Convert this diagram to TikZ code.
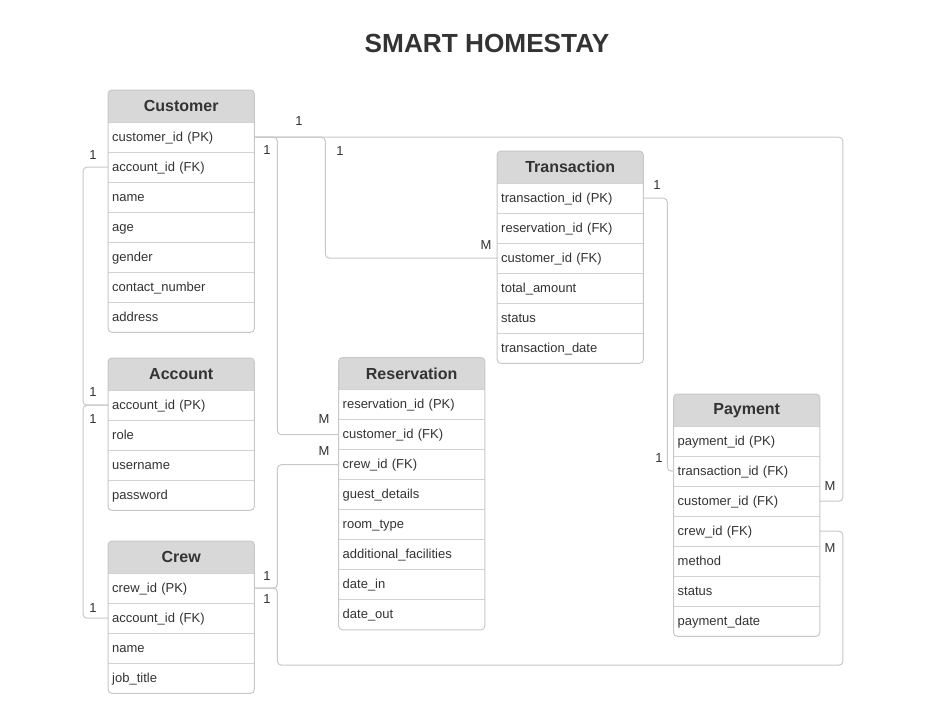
\documentclass[tikz,border=0pt]{standalone}
\usepackage{fontspec}
\setmainfont{Liberation Sans}
\definecolor{txt}{HTML}{333333}
\definecolor{hdrfill}{HTML}{D8D8D8}
\definecolor{bordc}{HTML}{C8C8C8}
\definecolor{sepc}{HTML}{D2D2D2}
\definecolor{linec}{HTML}{C8C8C8}
\pgfdeclarelayer{pagebg}
\pgfdeclarelayer{hdrbg}
\pgfsetlayers{pagebg,hdrbg,main}
\tikzset{
  hdr/.style={rectangle, anchor=north west, minimum width=146pt, minimum height=32pt, inner sep=0pt,
    font=\fontsize{16}{18}\selectfont\bfseries, text=txt},
  fld/.style={rectangle, anchor=north west, minimum height=30pt, inner xsep=4pt, inner ysep=0pt,
    text width=138pt, align=left, text height=12pt, text depth=3.5pt,
    font=\fontsize{13}{15}\selectfont, text=txt},
  conn/.style={draw=linec, line width=1pt, rounded corners=4pt},
  card/.style={font=\fontsize{13}{15}\selectfont, text=txt, inner sep=0pt},
  tbord/.style={draw=bordc, line width=1pt, rounded corners=4pt},
  tsep/.style={draw=sepc, line width=1pt},
}
\newcommand\ertable[5]{%
  \node[hdr] (#1) at (#2,#3) {#4};
  \foreach \f [count=\i] in {#5} {
    \node[fld] (#1-\i) at (#2,{#3+32+(\i-1)*30}) {\f};
  }
}
\newcommand\erframe[2]{%
  \begin{pgfonlayer}{hdrbg}
  \begin{scope}
    \clip[rounded corners=4pt] (#1.north west) rectangle (#1-#2.south east);
    \fill[hdrfill] (#1.north west) rectangle (#1.south east);
  \end{scope}
  \end{pgfonlayer}
  \foreach \i in {1,...,#2} { \draw[tsep] (#1-\i.north west) -- (#1-\i.north east); }
  \draw[tbord] (#1.north west) rectangle (#1-#2.south east);
}
\begin{document}
\begin{tikzpicture}[x=1pt, y=-1pt]
\begin{pgfonlayer}{pagebg}
\fill[white] (0,0) rectangle (949,710);
\end{pgfonlayer}
\useasboundingbox (0,0) rectangle (949,710);

\node[font=\fontsize{26.2}{28}\selectfont\bfseries, text=txt] (title) at (487,43) {SMART HOMESTAY};

\ertable{cust}{108}{90}{Customer}{customer\_id (PK), account\_id (FK), name, age, gender, contact\_number, address}
\ertable{acc}{108}{358}{Account}{account\_id (PK), role, username, password}
\ertable{crew}{108}{541}{Crew}{crew\_id (PK), account\_id (FK), name, job\_title}
\ertable{res}{338.5}{357.5}{Reservation}{reservation\_id (PK), customer\_id (FK), crew\_id (FK), guest\_details, room\_type, additional\_facilities, date\_in, date\_out}
\ertable{trans}{497}{151}{Transaction}{transaction\_id (PK), reservation\_id (FK), customer\_id (FK), total\_amount, status, transaction\_date}
\ertable{pay}{673.5}{394}{Payment}{payment\_id (PK), transaction\_id (FK), customer\_id (FK), crew\_id (FK), method, status, payment\_date}

% connectors
\draw[conn] (cust-2.west) -- ++(-25,0) |- (acc-1.west);
\draw[conn] (acc-1.west) -- ++(-25,0) |- (crew-2.west);
\draw[conn] (cust-1.east) -- ++(23,0) |- (res-2.west);
\draw[conn] (cust-1.east) -- ++(71,0) |- (trans-3.west);
\draw[conn] (cust-1.east) -| ([xshift=23pt]pay-3.east) -- (pay-3.east);
\draw[conn] (trans-1.east) -- ++(24,0) |- (pay-2.west);
\draw[conn] (crew-1.east) -- ++(23,0) |- (res-3.west);
\draw[conn] (crew-1.east) -- ++(23,0) -- ++(0,77) -| ([xshift=23pt]pay-4.east) -- (pay-4.east);

\erframe{cust}{7}
\erframe{acc}{4}
\erframe{crew}{4}
\erframe{res}{8}
\erframe{trans}{6}
\erframe{pay}{7}

% cardinalities
\node[card] (c1) at (299,121) {1};
\node[card] (c2) at (267,150) {1};
\node[card] (c3) at (340,151) {1};
\node[card] (c4) at (93,155) {1};
\node[card] (c5) at (486,245) {M};
\node[card] (c6) at (657,185) {1};
\node[card] (c7) at (93,392) {1};
\node[card] (c8) at (93,419) {1};
\node[card] (c9) at (324,419) {M};
\node[card] (c10) at (324,451) {M};
\node[card] (c11) at (659,458) {1};
\node[card] (c12) at (830,486) {M};
\node[card] (c13) at (830,548) {M};
\node[card] (c14) at (267,576) {1};
\node[card] (c15) at (267,599) {1};
\node[card] (c16) at (93,608) {1};
\end{tikzpicture}
\end{document}
